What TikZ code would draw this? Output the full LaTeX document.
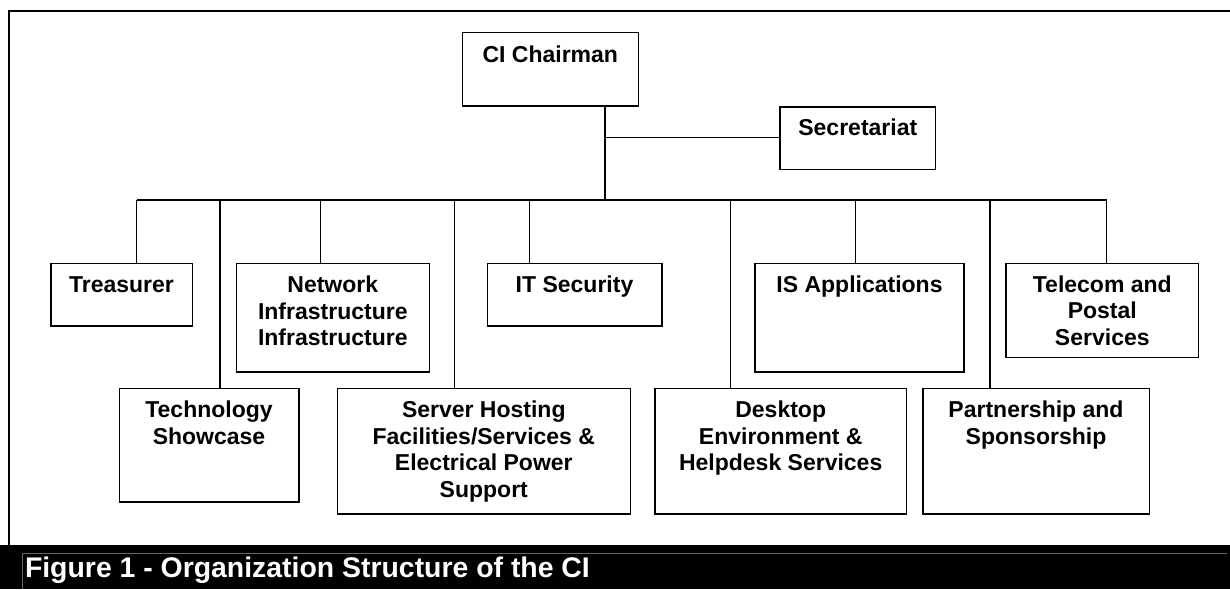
\documentclass[tikz,border=0pt]{standalone}
\usepackage{fontspec}
\setmainfont{Liberation Sans}
\begin{document}
\begin{tikzpicture}[x=1pt,y=-1pt,
  orgbox/.style={draw=black,line width=1.6pt,rectangle,inner sep=0pt,fill=white},
  orgtext/.style={anchor=north,align=center,inner sep=0pt,font=\fontsize{23}{26.5}\selectfont\bfseries},
  conn/.style={draw=black,line width=1.2pt},
]
\useasboundingbox (0,0) rectangle (1230,589);
\fill[white] (0,0) rectangle (1230,589);
% outer frame
\draw[line width=2.2pt] (9,545) -- (9,11) -- (1232,11);

% coordinates on connectors
\coordinate (j) at (605,200);
\coordinate (cs) at (605,137.7);
\coordinate (bl) at (136.7,200);
\coordinate (br) at (1106.7,200);
\coordinate (b1) at (136.7,200);
\coordinate (b2) at (220,200);
\coordinate (b3) at (320.7,200);
\coordinate (b4) at (454.3,200);
\coordinate (b5) at (529.3,200);
\coordinate (b6) at (730.7,200);
\coordinate (b7) at (855.7,200);
\coordinate (b8) at (990,200);
\coordinate (b9) at (1106.7,200);

% boxes
\node[orgbox,minimum width=176pt,minimum height=73.7pt] (chair) at (550.3,69.2) {};
\node[orgbox,minimum width=155.7pt,minimum height=62.6pt] (sec) at (857.8,138) {};
\node[orgbox,minimum width=141.6pt,minimum height=62.4pt] (treas) at (121.5,294.5) {};
\node[orgbox,minimum width=193pt,minimum height=108.4pt] (net) at (332.8,317.5) {};
\node[orgbox,minimum width=174.4pt,minimum height=62.4pt] (itsec) at (574.5,294.5) {};
\node[orgbox,minimum width=209pt,minimum height=108.4pt] (isapp) at (859.5,317.5) {};
\node[orgbox,minimum width=192.7pt,minimum height=94pt] (tele) at (1102.3,310.3) {};
\node[orgbox,minimum width=179.4pt,minimum height=113.4pt] (tech) at (209,445) {};
\node[orgbox,minimum width=293pt,minimum height=125.4pt] (server) at (483.8,451) {};
\node[orgbox,minimum width=251.3pt,minimum height=125.4pt] (desk) at (780.7,451) {};
\node[orgbox,minimum width=226.6pt,minimum height=125.4pt] (partner) at (1036,451) {};

% texts
\node[orgtext] (tchair) at ([yshift=-14pt]chair.north) {CI Chairman};
\node[orgtext] (tsec) at ([yshift=-13pt]sec.north) {Secretariat};
\node[orgtext] (ttreas) at ([yshift=-13.5pt]treas.north) {Treasurer};
\node[orgtext] (tnet) at ([yshift=-13.5pt]net.north) {Network\\Infrastructure\\Infrastructure};
\node[orgtext] (titsec) at ([yshift=-13.5pt]itsec.north) {IT Security};
\node[orgtext] (tisapp) at ([yshift=-13.5pt]isapp.north) {IS Applications};
\node[orgtext] (ttele) at ([yshift=-13pt]tele.north) {Telecom and\\Postal\\Services};
\node[orgtext] (ttech) at ([yshift=-13.5pt]tech.north) {Technology\\Showcase};
\node[orgtext] (tserver) at ([yshift=-13.5pt]server.north) {Server Hosting\\Facilities/Services \&\\Electrical Power\\Support};
\node[orgtext] (tdesk) at ([yshift=-13.5pt]desk.north) {Desktop\\Environment \&\\Helpdesk Services};
\node[orgtext] (tpartner) at ([yshift=-13.5pt]partner.north) {Partnership and\\Sponsorship};

% connectors
\draw[conn] (chair.south -| j) -- (j);
\draw[conn] (cs) -- (sec.west |- cs);
\draw[conn] (bl) -- (br);
\draw[conn] (b1) -- (b1 |- treas.north);
\draw[conn] (b2) -- (b2 |- tech.north);
\draw[conn] (b3) -- (b3 |- net.north);
\draw[conn] (b4) -- (b4 |- server.north);
\draw[conn] (b5) -- (b5 |- itsec.north);
\draw[conn] (b6) -- (b6 |- desk.north);
\draw[conn] (b7) -- (b7 |- isapp.north);
\draw[conn] (b8) -- (b8 |- partner.north);
\draw[conn] (b9) -- (b9 |- tele.north);

% caption band
\fill[black] (0,545) rectangle (1230,589);
\draw[color=black!60,line width=0.8pt] (22.7,589) -- (22.7,553.3) -- (1227,553.3);
\node[anchor=base west,inner sep=0pt,text=white,font=\fontsize{28.4}{32}\selectfont\bfseries] (cap) at (24.8,577.5) {Figure 1 - Organization Structure of the CI};
\end{tikzpicture}
\end{document}
